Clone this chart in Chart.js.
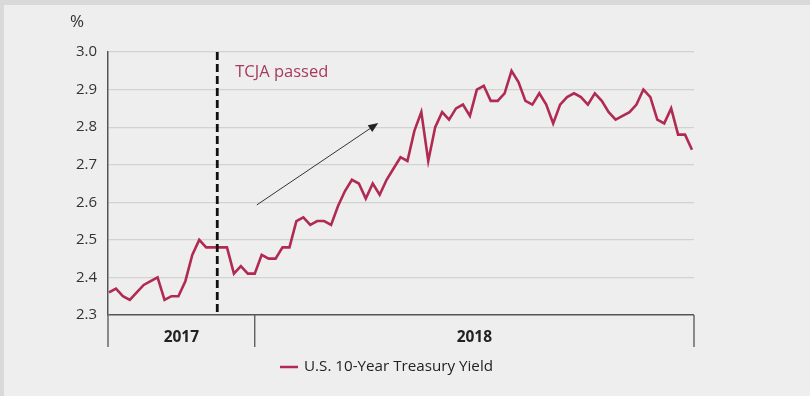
<!DOCTYPE html>
<html>
<head>
<meta charset="utf-8">
<script src="https://cdn.jsdelivr.net/npm/chart.js@4/dist/chart.umd.min.js"></script>
<style>
  html, body { margin: 0; padding: 0; background: #d9d9d9; }
  #frame { position: absolute; left: 4px; top: 5px; width: 806px; height: 391px; background: #eeeeee; }
  canvas { display: block; }
</style>
</head>
<body>
<div id="frame"><canvas id="c" width="806" height="391"></canvas></div>
<script>
// Daily U.S. 10-year Treasury yield, late 2017 through spring 2018 (%)
const yields = [
  2.36, 2.37, 2.35, 2.34, 2.36, 2.38, 2.39, 2.40, 2.34, 2.35,
  2.35, 2.39, 2.46, 2.50, 2.48, 2.48, 2.48, 2.48, 2.41, 2.43,
  2.41, 2.41, 2.46, 2.45, 2.45, 2.48, 2.48, 2.55, 2.56, 2.54,
  2.55, 2.55, 2.54, 2.59, 2.63, 2.66, 2.65, 2.61, 2.65, 2.62,
  2.66, 2.69, 2.72, 2.71, 2.79, 2.84, 2.71, 2.80, 2.84, 2.82,
  2.85, 2.86, 2.83, 2.90, 2.91, 2.87, 2.87, 2.89, 2.95, 2.92,
  2.87, 2.86, 2.89, 2.86, 2.81, 2.86, 2.88, 2.89, 2.88, 2.86,
  2.89, 2.87, 2.84, 2.82, 2.83, 2.84, 2.86, 2.90, 2.88, 2.82,
  2.81, 2.85, 2.78, 2.78, 2.74
];
// Year bands along the bottom: label and first session index of each year
const years = ['2017', '2018'];
const yearStarts = [0, 21];
// Y axis tick values
const yTicks = [2.3, 2.4, 2.5, 2.6, 2.7, 2.8, 2.9, 3.0];
// Session at which the tax bill passed
const tcjaSession = 15.6;
const seriesName = 'U.S. 10-Year Treasury Yield';

const lineColor = '#b02a52';
const FONT = '"Open Sans", "Noto Sans", sans-serif';

const overlay = {
  id: 'overlay',
  afterDatasetsDraw(chart) {
    const { ctx, chartArea: a, scales: { x, y } } = chart;
    ctx.save();

    // unit label above the axis
    ctx.fillStyle = '#333';
    ctx.font = '17px ' + FONT;
    ctx.textAlign = 'left';
    ctx.textBaseline = 'middle';
    ctx.fillText('%', 66, 17);

    // TCJA dashed marker
    const tx = x.getPixelForValue(tcjaSession);
    ctx.strokeStyle = '#111';
    ctx.lineWidth = 2.8;
    ctx.setLineDash([8, 4]);
    ctx.beginPath();
    ctx.moveTo(tx, a.top);
    ctx.lineTo(tx, a.bottom);
    ctx.stroke();
    ctx.setLineDash([]);

    ctx.fillStyle = '#a6395f';
    ctx.font = '16.5px ' + FONT;
    ctx.textBaseline = 'middle';
    ctx.fillText('TCJA passed', tx + 18, y.getPixelForValue(2.947));

    // trend arrow
    const x0 = x.getPixelForValue(21.3), y0 = y.getPixelForValue(2.593);
    const x1 = x.getPixelForValue(38.8), y1 = y.getPixelForValue(2.811);
    const ang = Math.atan2(y1 - y0, x1 - x0);
    ctx.strokeStyle = '#333';
    ctx.lineWidth = 1;
    ctx.beginPath();
    ctx.moveTo(x0, y0);
    ctx.lineTo(x1 - 8 * Math.cos(ang), y1 - 8 * Math.sin(ang));
    ctx.stroke();
    ctx.fillStyle = '#222';
    ctx.beginPath();
    ctx.moveTo(x1, y1);
    ctx.lineTo(x1 - 10 * Math.cos(ang) + 4 * Math.sin(ang), y1 - 10 * Math.sin(ang) - 4 * Math.cos(ang));
    ctx.lineTo(x1 - 10 * Math.cos(ang) - 4 * Math.sin(ang), y1 - 10 * Math.sin(ang) + 4 * Math.cos(ang));
    ctx.closePath();
    ctx.fill();

    // year bands below the axis
    const bandBottom = a.bottom + 32;
    ctx.strokeStyle = '#555';
    ctx.lineWidth = 1.3;
    const edges = yearStarts.map(s => s === 0 ? a.left : x.getPixelForValue(s));
    edges.push(a.right);
    ctx.beginPath();
    edges.forEach(e => { ctx.moveTo(e, a.bottom); ctx.lineTo(e, bandBottom); });
    ctx.stroke();
    ctx.fillStyle = '#222';
    ctx.font = 'bold 15.5px ' + FONT;
    ctx.textAlign = 'center';
    years.forEach((yr, i) => ctx.fillText(yr, (edges[i] + edges[i + 1]) / 2, a.bottom + 23));

    // legend
    ctx.strokeStyle = lineColor;
    ctx.lineWidth = 2.5;
    ctx.beginPath();
    ctx.moveTo(276, 362);
    ctx.lineTo(294, 362);
    ctx.stroke();
    ctx.fillStyle = '#222';
    ctx.font = '15.2px ' + FONT;
    ctx.textAlign = 'left';
    ctx.fillText(seriesName, 300, 362);

    ctx.restore();
  }
};

new Chart(document.getElementById('c'), {
  type: 'line',
  data: {
    datasets: [{
      label: seriesName,
      data: yields.map((v, i) => ({ x: i, y: v })),
      borderColor: lineColor,
      borderWidth: 2.6,
      pointRadius: 0,
      tension: 0,
      clip: false
    }]
  },
  options: {
    responsive: false,
    animation: false,
    layout: { padding: { top: 47, right: 116, bottom: 81, left: 0 } },
    plugins: { legend: { display: false }, tooltip: { enabled: false } },
    scales: {
      x: { type: 'linear', display: false, min: -0.144, max: 84.29 },
      y: {
        min: 2.3, max: 3.0,
        afterFit(s) { s.width = 104; },
        afterBuildTicks(s) { s.ticks = yTicks.map(v => ({ value: v })); },
        ticks: {
          padding: 11,
          color: '#333',
          font: { family: FONT, size: 15 },
          callback: v => Number(v).toFixed(1)
        },
        grid: {
          drawTicks: false,
          lineWidth: ctx => ctx.tick && Math.abs(ctx.tick.value - 2.3) < 1e-6 ? 1.5 : 1.2,
          color: ctx => ctx.tick && Math.abs(ctx.tick.value - 2.3) < 1e-6 ? '#555' : '#d2d2d2'
        },
        border: { display: true, color: '#555', width: 1.5 }
      }
    }
  },
  plugins: [overlay]
});
</script>
</body>
</html>
